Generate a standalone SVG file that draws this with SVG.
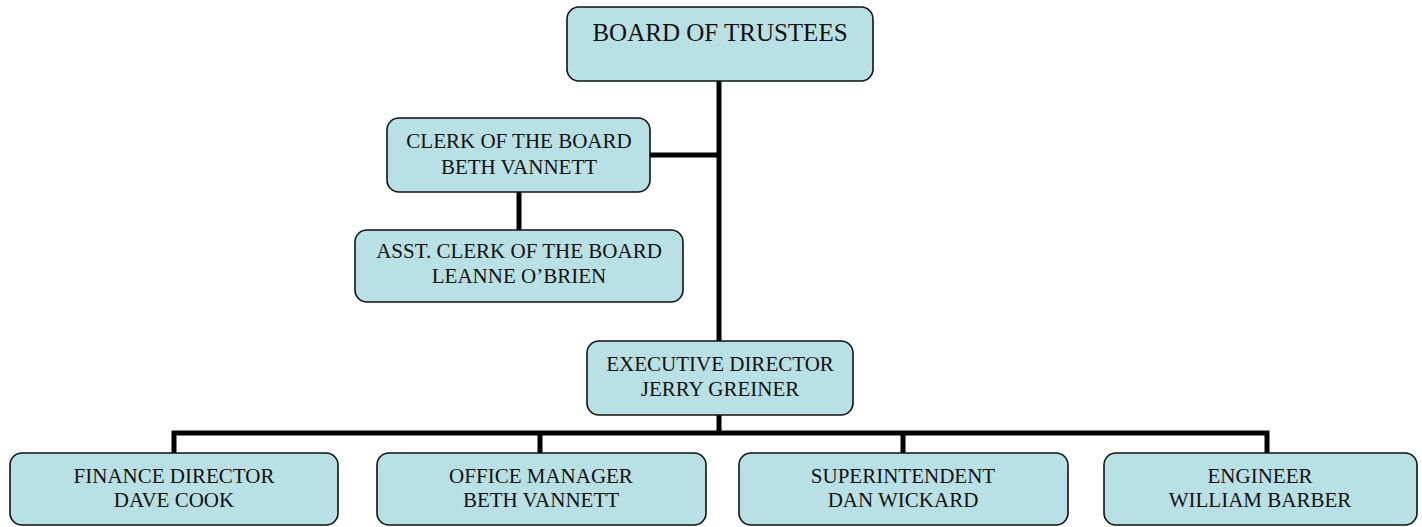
<svg xmlns="http://www.w3.org/2000/svg" width="1422" height="527" viewBox="0 0 1422 527">
<style>
.box{fill:#b9e0e4;stroke:#111;stroke-width:1.6}
.t{font-family:"Liberation Serif","Times New Roman",serif;font-size:21px;fill:#111;text-anchor:middle}
.big{font-size:25px}
.ln{stroke:#000;stroke-width:5;fill:none}
</style>
<rect width="1422" height="527" fill="#fff"/>
<g id="connectors">
<line class="ln" x1="719" y1="81" x2="719" y2="341"/>
<line class="ln" x1="650" y1="155" x2="719" y2="155"/>
<line class="ln" x1="519" y1="192" x2="519" y2="230"/>
<line class="ln" x1="719" y1="415" x2="719" y2="433"/>
<polyline class="ln" points="174,453 174,433 1267,433 1267,453"/>
<line class="ln" x1="540" y1="433" x2="540" y2="453"/>
<line class="ln" x1="903" y1="433" x2="903" y2="453"/>
</g>
<g id="board">
<rect class="box" x="567" y="7" width="306" height="74" rx="12"/>
<text class="t big" x="720" y="41">BOARD OF TRUSTEES</text>
</g>
<g id="clerk">
<rect class="box" x="387" y="118" width="263" height="74" rx="12"/>
<text class="t" x="519" y="148">CLERK OF THE BOARD</text>
<text class="t" x="519" y="174">BETH VANNETT</text>
</g>
<g id="asst-clerk">
<rect class="box" x="355" y="230" width="328" height="72" rx="12"/>
<text class="t" x="519" y="258">ASST. CLERK OF THE BOARD</text>
<text class="t" x="519" y="283">LEANNE O’BRIEN</text>
</g>
<g id="exec">
<rect class="box" x="587" y="341" width="266" height="74" rx="12"/>
<text class="t" x="720" y="371">EXECUTIVE DIRECTOR</text>
<text class="t" x="720" y="396">JERRY GREINER</text>
</g>
<g id="finance">
<rect class="box" x="10" y="453" width="328" height="72" rx="12"/>
<text class="t" x="174" y="483">FINANCE DIRECTOR</text>
<text class="t" x="174" y="507">DAVE COOK</text>
</g>
<g id="office">
<rect class="box" x="377" y="453" width="329" height="72" rx="12"/>
<text class="t" x="541" y="483">OFFICE MANAGER</text>
<text class="t" x="541" y="507">BETH VANNETT</text>
</g>
<g id="superintendent">
<rect class="box" x="739" y="453" width="329" height="72" rx="12"/>
<text class="t" x="903" y="483">SUPERINTENDENT</text>
<text class="t" x="903" y="507">DAN WICKARD</text>
</g>
<g id="engineer">
<rect class="box" x="1104" y="453" width="313" height="72" rx="12"/>
<text class="t" x="1260" y="483">ENGINEER</text>
<text class="t" x="1260" y="507">WILLIAM BARBER</text>
</g>
</svg>
